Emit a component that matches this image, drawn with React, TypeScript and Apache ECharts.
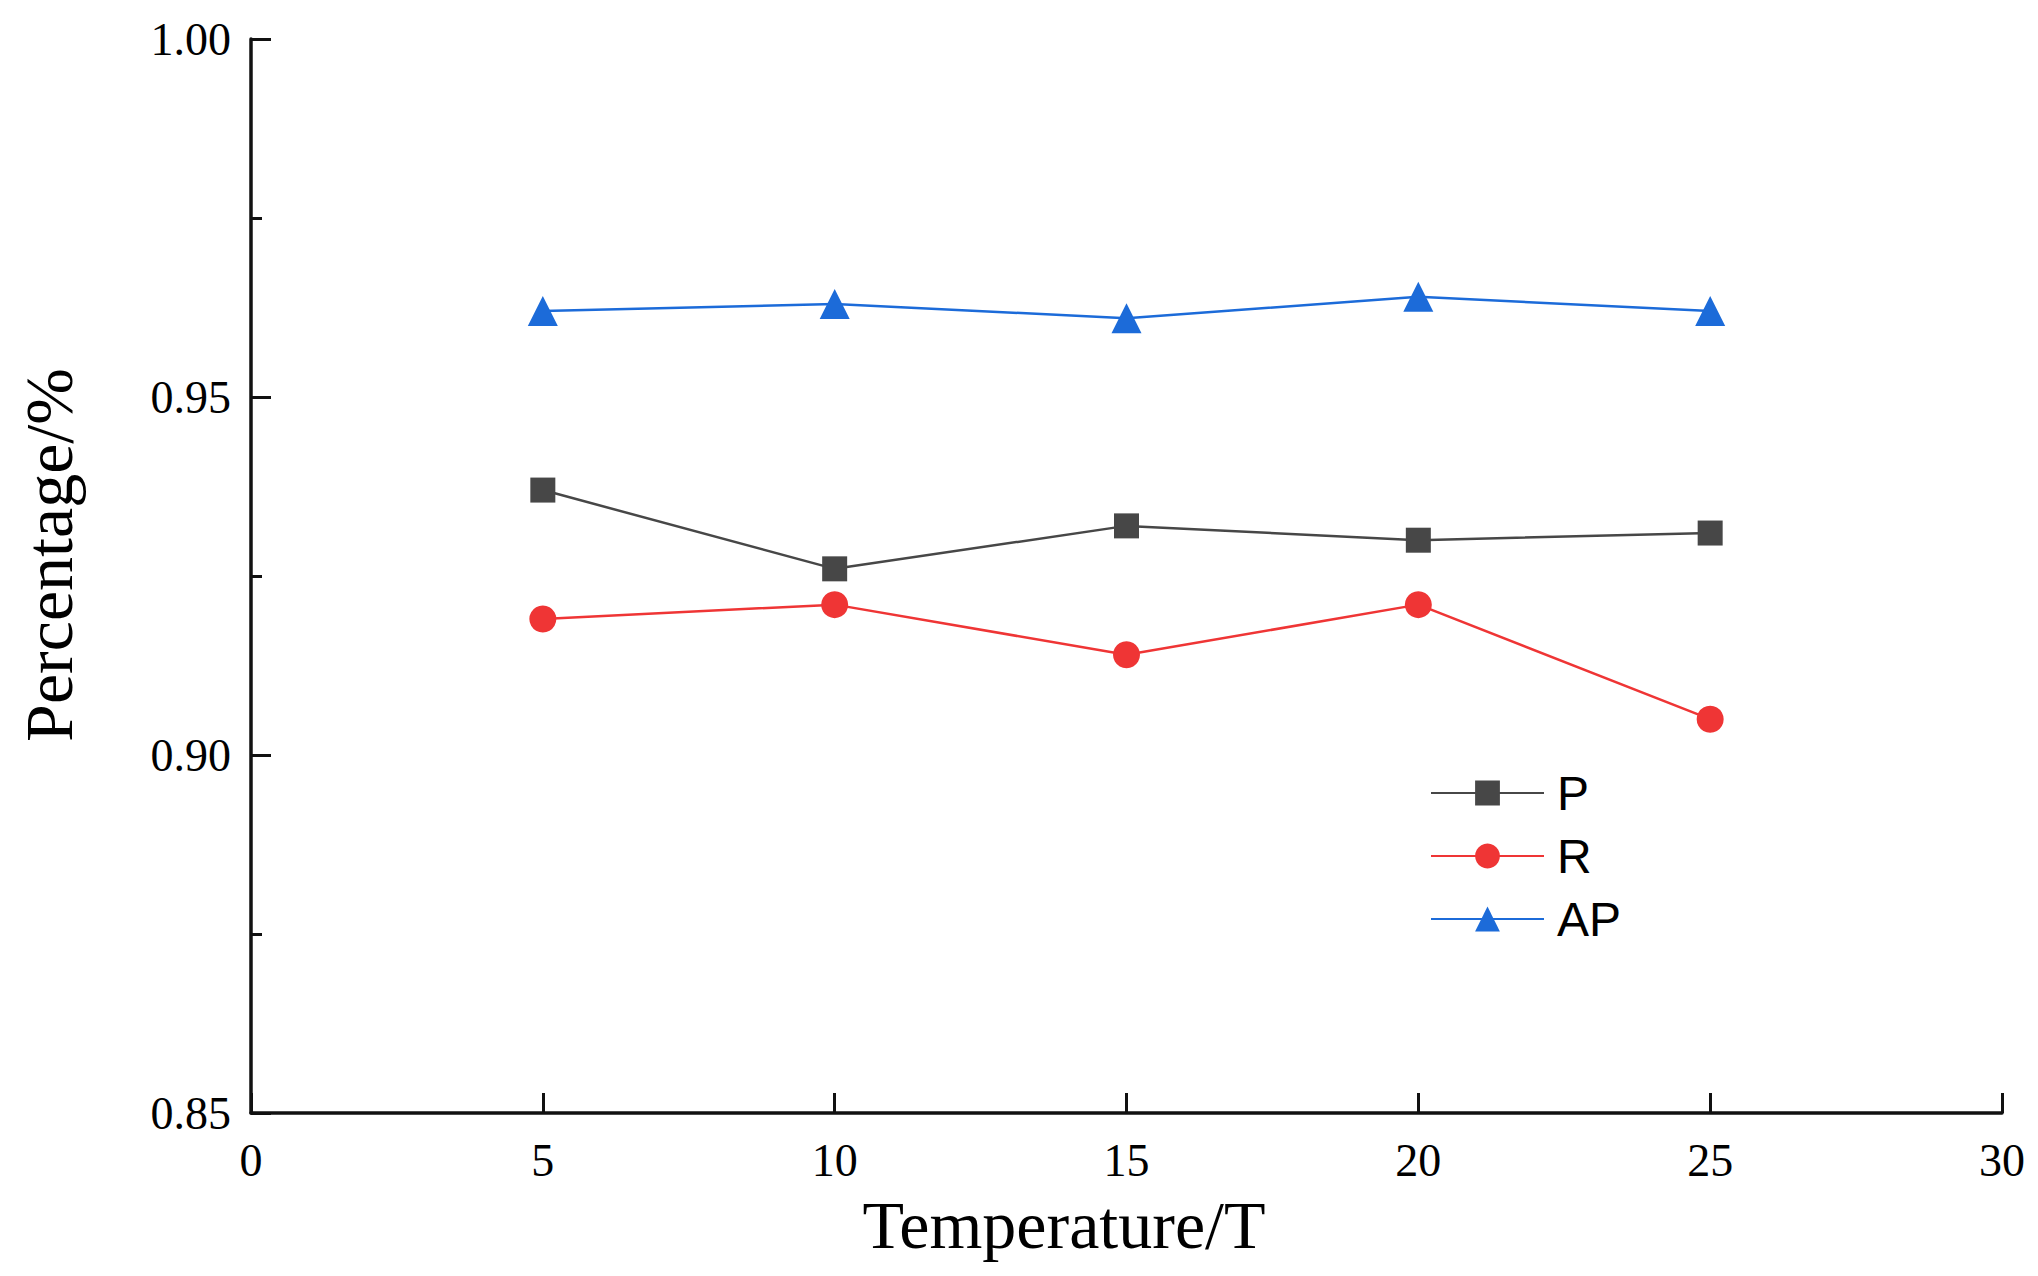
import React, { useEffect, useRef } from "react";
import * as echarts from "echarts";

const temperatures = [5, 10, 15, 20, 25];
const pValues = [0.937, 0.926, 0.932, 0.93, 0.931];
const rValues = [0.919, 0.921, 0.914, 0.921, 0.905];
const apValues = [0.962, 0.963, 0.961, 0.964, 0.962];

const seriesNames = ["P", "R", "AP"];
const seriesColors = ["#474747", "#ef3535", "#1c6bd9"];
const seriesSymbols = ["rect", "circle", "triangle"];
const seriesSymbolSizes = [25, 27, 30];

const xTitle = "Temperature/T";
const yTitle = "Percentage/%";

const serif = "'Liberation Serif', 'Times New Roman', serif";
const sans = "'Liberation Sans', Arial, sans-serif";

export default function App() {
  const ref = useRef<HTMLDivElement>(null);

  useEffect(() => {
    if (!ref.current) return;
    const chart = echarts.init(ref.current, undefined, { renderer: "svg" });
    const allValues = [pValues, rValues, apValues];
    const series = allValues.map((vals, i) => ({
      name: seriesNames[i],
      type: "line",
      data: temperatures.map((t, j) => [t, vals[j]]),
      symbol: seriesSymbols[i],
      symbolSize: seriesSymbolSizes[i],
      showAllSymbol: true,
      color: seriesColors[i],
      lineStyle: { width: 2.5, color: seriesColors[i] },
      itemStyle: { color: seriesColors[i] },
      z: 3 - i,
    }));

    chart.setOption({
      animation: false,
      backgroundColor: "#ffffff",
      grid: { left: 251, right: 36, top: 39, bottom: 163, containLabel: false },
      xAxis: {
        type: "value",
        min: 0,
        max: 30,
        interval: 5,
        axisLine: { show: true, lineStyle: { color: "#111", width: 3.5 } },
        axisTick: { show: true, inside: true, length: 20, lineStyle: { color: "#111", width: 3 } },
        minorTick: { show: false },
        splitLine: { show: false },
        axisLabel: {
          margin: 24,
          fontSize: 46,
          fontFamily: serif,
          color: "#000",
        },
      },
      yAxis: {
        type: "value",
        min: 0.85,
        max: 1.0,
        interval: 0.05,
        axisLine: { show: true, lineStyle: { color: "#111", width: 3.5 } },
        axisTick: { show: true, inside: true, length: 20, lineStyle: { color: "#111", width: 3 } },
        minorTick: { show: true, splitNumber: 2, length: 11, lineStyle: { color: "#111", width: 3 } },
        splitLine: { show: false },
        axisLabel: {
          margin: 20,
          fontSize: 46,
          fontFamily: serif,
          color: "#000",
          formatter: (v: number) => v.toFixed(2),
        },
      },
      legend: {
        orient: "vertical",
        left: 1425,
        top: 764,
        itemWidth: 113,
        itemHeight: 31,
        itemGap: 15,
        data: seriesNames,
        textStyle: {
          fontSize: 48,
          fontFamily: sans,
          color: "#000",
          padding: [0, 0, 0, 8],
        },
      },
      graphic: [
        {
          type: "text",
          x: 49,
          y: 555,
          rotation: Math.PI / 2,
          style: {
            text: yTitle,
            fontSize: 68,
            fontFamily: serif,
            fill: "#000",
            textAlign: "center",
            textVerticalAlign: "middle",
          },
        },
        {
          type: "text",
          x: 1064,
          y: 1225,
          style: {
            text: xTitle,
            fontSize: 68,
            fontFamily: serif,
            fill: "#000",
            textAlign: "center",
            textVerticalAlign: "middle",
          },
        },
      ],
      series,
    });
    return () => chart.dispose();
  }, []);

  return (
    <div
      ref={ref}
      style={{ position: "fixed", left: 0, top: 0, width: 2038, height: 1276, background: "#fff" }}
    />
  );
}
